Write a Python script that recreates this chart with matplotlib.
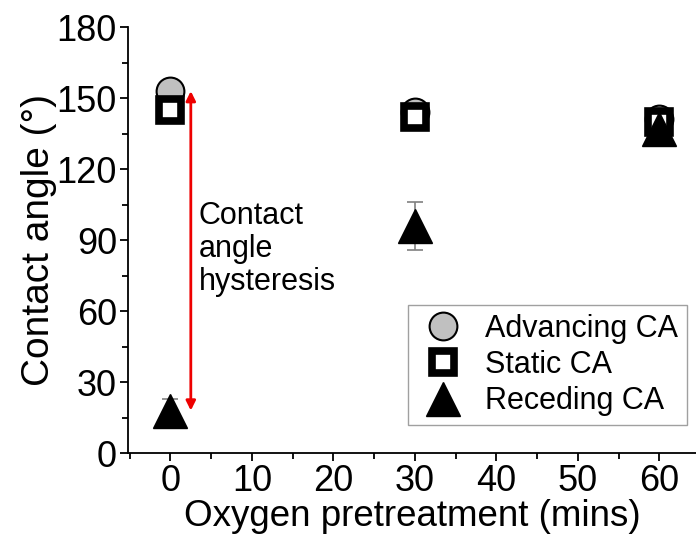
import matplotlib.pyplot as plt
from matplotlib.ticker import MultipleLocator

plt.rcParams['font.family'] = ['Liberation Sans', 'DejaVu Sans']

# data
minutes = [0, 30, 60]
advancing = [153, 144, 141]
advancing_err = [3, 2, 2]
static = [145, 142, 140]
static_err = [2, 2, 2]
receding = [18, 96, 137]
receding_err = [5, 10, 7]

fig = plt.figure(figsize=(6.96, 5.44), dpi=100)
ax = fig.add_axes([0.184, 0.167, 0.816, 0.783])

ax.errorbar(minutes, receding, yerr=receding_err, fmt='none', ecolor='#808080',
            elinewidth=1.2, capsize=6, capthick=1.2, zorder=1)
ax.errorbar(minutes, advancing, yerr=advancing_err, fmt='none', ecolor='#808080',
            elinewidth=1.2, capsize=6, capthick=1.2, zorder=1)
ax.plot(minutes, advancing, 'o', ms=20, mfc='#c0c0c0', mec='black', mew=1.5,
        label='Advancing CA', zorder=3)
ax.plot(minutes, static, 's', ms=16, mfc='white', mec='black', mew=5.5,
        label='Static CA', zorder=4)
ax.plot(minutes, receding, '^', ms=24, mfc='black', mec='black',
        label='Receding CA', zorder=5)

# hysteresis arrow
ax.annotate('', xy=(2.5, advancing[0]), xytext=(2.5, receding[0]),
            arrowprops=dict(arrowstyle='<|-|>', color='#ee0000', lw=2,
                            mutation_scale=14, shrinkA=0, shrinkB=0))
ax.text(3.5, 106.5, 'Contact\nangle\nhysteresis', fontsize=22, va='top',
        linespacing=1.12)

ax.set_xlim(-5.2, 64.5)
ax.set_ylim(0, 180)
ax.xaxis.set_major_locator(MultipleLocator(10))
ax.xaxis.set_minor_locator(MultipleLocator(5))
ax.yaxis.set_major_locator(MultipleLocator(30))
ax.yaxis.set_minor_locator(MultipleLocator(15))
ax.spines['top'].set_visible(False)
ax.spines['right'].set_visible(False)
for s in ['left', 'bottom']:
    ax.spines[s].set_linewidth(1.3)
ax.tick_params(which='major', length=6, width=1.3, labelsize=26, pad=2)
ax.tick_params(which='minor', length=4, width=1.3)

ax.set_xlabel('Oxygen pretreatment (mins)', fontsize=26.5, labelpad=0)
ax.set_ylabel('Contact angle (°)', fontsize=28, labelpad=0)

leg = ax.legend(loc='lower right', bbox_to_anchor=(0.984, 0.065), fontsize=22,
                frameon=True, fancybox=False, edgecolor='#888888',
                markerscale=1.0, handletextpad=0.5, labelspacing=0.2,
                borderpad=0.3, handlelength=1.7, borderaxespad=0)
leg.get_frame().set_linewidth(1.0)

fig.savefig('out.png', dpi=100)
